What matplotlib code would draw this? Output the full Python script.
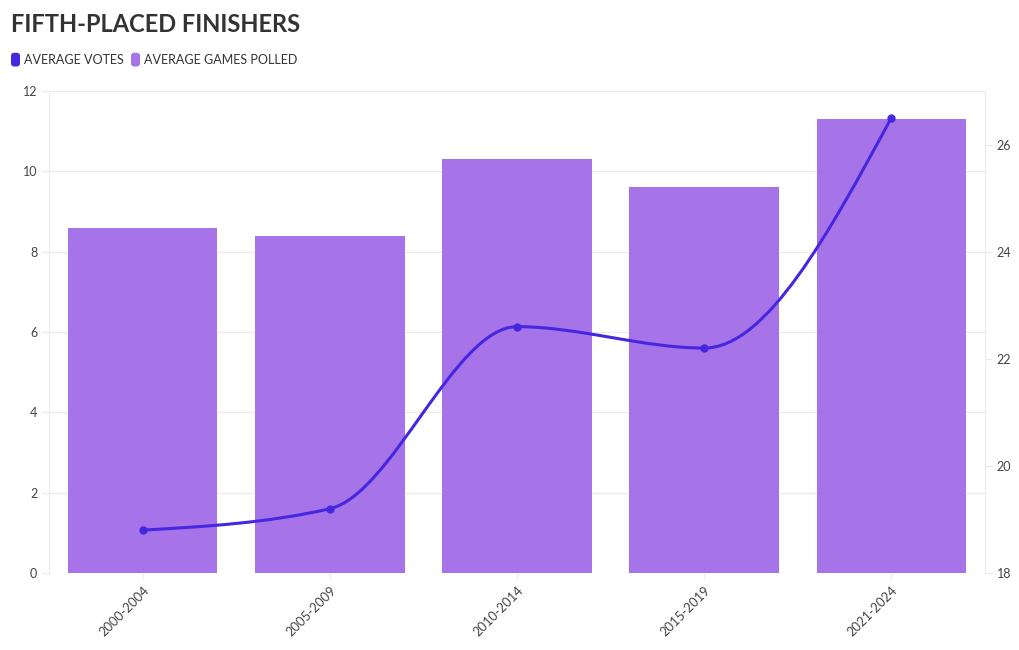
import matplotlib
matplotlib.use("Agg")
import matplotlib.pyplot as plt
import numpy as np
from matplotlib.path import Path
from matplotlib.patches import PathPatch, FancyBboxPatch
from matplotlib.legend_handler import HandlerPatch

plt.rcParams['font.family'] = ['Lato', 'DejaVu Sans']

periods = ["2000-2004", "2005-2009", "2010-2014", "2015-2019", "2021-2024"]
avg_games_polled = [8.6, 8.4, 10.3, 9.6, 11.3]
avg_votes = [18.8, 19.2, 22.6, 22.2, 26.5]

BAR_COLOR = "#a673e8"
LINE_COLOR = "#4527e0"
GRID = "#ebebeb"
TXT = "#444444"

fig = plt.figure(figsize=(10.2, 6.5), dpi=100)
ax = fig.add_axes([49/1020, 1-573/650, (985-49)/1020, (573-91)/650])
ax2 = ax.twinx()

x = np.arange(len(periods))
ax.bar(x, avg_games_polled, width=0.8, color=BAR_COLOR, zorder=2)
ax.set_xlim(-0.5, len(periods) - 0.5)
ax.set_ylim(0, 12)
ax.set_yticks(range(0, 13, 2))
ax2.set_ylim(18, 27)
ax2.set_yticks(range(18, 27, 2))

ax.grid(axis='y', color=GRID, linewidth=1, zorder=0)
ax.set_axisbelow(True)
for a in (ax, ax2):
    for s in ('top', 'bottom'):
        a.spines[s].set_visible(False)
    a.spines['left'].set_color(GRID)
    a.spines['right'].set_color(GRID)
    a.tick_params(axis='y', colors=TXT, labelsize=9, length=5, width=1)
    a.tick_params(axis='y', color=GRID)
ax2.spines['left'].set_visible(False)
ax.spines['right'].set_visible(False)

ax.set_xticks(x)
ax.set_xticklabels(periods, rotation=45, ha='right', va='top', rotation_mode='anchor',
                   color=TXT, fontsize=9.3)
ax.tick_params(axis='x', length=4, color=GRID, pad=4)

# Monotone-X cubic (d3 curveMonotoneX style) through the data points
xs = x.astype(float)
ys = np.asarray(avg_votes, dtype=float)
n = len(xs)
secants = np.diff(ys) / np.diff(xs)
h = np.diff(xs)
t = np.zeros(n)
for i in range(1, n - 1):
    s0, s1 = secants[i - 1], secants[i]
    p = (s0 * h[i] + s1 * h[i - 1]) / (h[i - 1] + h[i])
    t[i] = (np.sign(s0) + np.sign(s1)) * min(abs(s0), abs(s1), 0.5 * abs(p))
t[0] = (3 * secants[0] - t[1]) / 2
t[-1] = (3 * secants[-1] - t[-2]) / 2
verts = [(xs[0], ys[0])]
codes = [Path.MOVETO]
for i in range(n - 1):
    dx = (xs[i + 1] - xs[i]) / 3
    verts += [(xs[i] + dx, ys[i] + dx * t[i]),
              (xs[i + 1] - dx, ys[i + 1] - dx * t[i + 1]),
              (xs[i + 1], ys[i + 1])]
    codes += [Path.CURVE4] * 3
ax2.add_patch(PathPatch(Path(verts, codes), facecolor='none', edgecolor=LINE_COLOR,
                        linewidth=2.2, zorder=3))
ax2.plot(xs, ys, 'o', color=LINE_COLOR, markersize=5, zorder=4)

# Title
fig.text(11/1020, 1-25/650, "FIFTH-PLACED FINISHERS", fontsize=17, fontweight='bold',
         color="#333333", ha='left', va='center')

# Legend
class RoundHandler(HandlerPatch):
    def create_artists(self, legend, orig_handle, xdescent, ydescent, width, height, fontsize, trans):
        bw = 0.72 * fontsize
        bh = 1.1 * fontsize
        cy = -ydescent + height / 2
        p = FancyBboxPatch((-xdescent + width - bw, cy - bh / 2), bw, bh,
                           boxstyle="round,pad=0,rounding_size=2.2",
                           facecolor=orig_handle.get_facecolor(), edgecolor='none', transform=trans)
        return [p]

h1 = plt.Rectangle((0, 0), 1, 1, facecolor=LINE_COLOR)
h2 = plt.Rectangle((0, 0), 1, 1, facecolor=BAR_COLOR)
leg = fig.legend([h1, h2], ["AVERAGE VOTES", "AVERAGE GAMES POLLED"],
                 loc='center left', bbox_to_anchor=(11/1020, 1-60/650), ncol=2,
                 frameon=False, fontsize=9, handlelength=0.72, handletextpad=0.3,
                 columnspacing=0.6, borderaxespad=0, borderpad=0,
                 handler_map={plt.Rectangle: RoundHandler()})
for tx in leg.get_texts():
    tx.set_color("#333333")

fig.savefig("out.png", dpi=100, facecolor='white')
